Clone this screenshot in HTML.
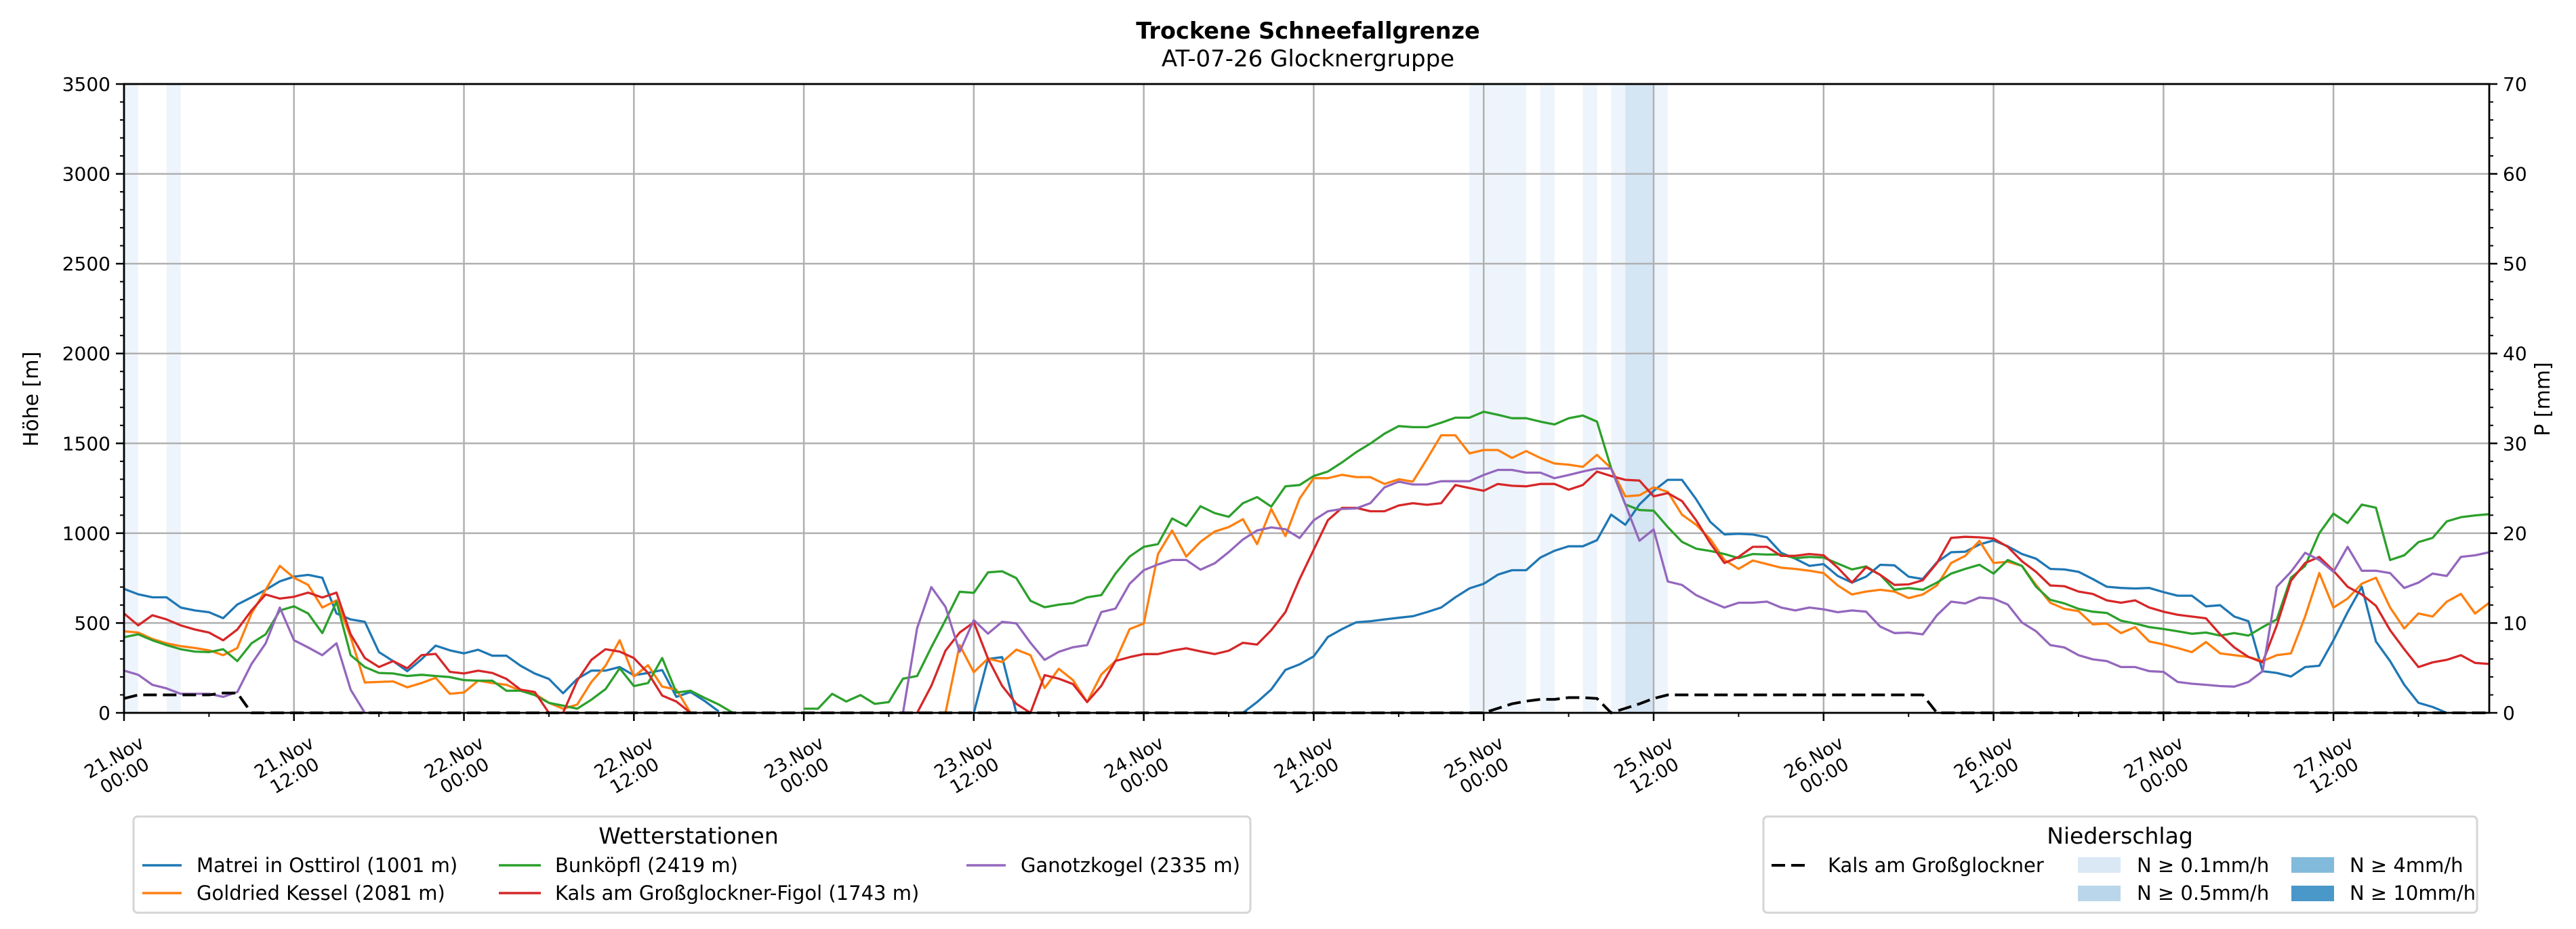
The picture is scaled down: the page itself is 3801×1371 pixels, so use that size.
<!DOCTYPE html>
<html><head><meta charset="utf-8">
<style>
html,body{margin:0;padding:0;background:#fff;}
svg{display:block;font-family:"DejaVu Sans","Liberation Sans",sans-serif;}
</style></head>
<body>
<svg id="chart" xmlns="http://www.w3.org/2000/svg" width="3801" height="1371" viewBox="0 0 3801 1371">
  <rect x="0" y="0" width="3801" height="1371" fill="#fff"/>
  <text x="1930" y="57" text-anchor="middle" font-size="33.5" font-weight="bold">Trockene Schneefallgrenze</text>
  <text x="1930" y="98" text-anchor="middle" font-size="34">AT-07-26 Glocknergruppe</text>
  <g id="bands"></g>
  <g id="grid"></g>
  <g id="series"></g>
  <g id="axes"></g>
  <text transform="translate(56,589) rotate(-90)" text-anchor="middle" font-size="30">Höhe [m]</text>
  <text transform="translate(3762,589) rotate(-90)" text-anchor="middle" font-size="30">P [mm]</text>

  <g>
    <rect x="197" y="1205" width="1648" height="142" rx="6" fill="#fff" stroke="#d5d5d5" stroke-width="3"/>
    <text x="1016" y="1245" text-anchor="middle" font-size="33">Wetterstationen</text>
    <g><line x1="210" y1="1277" x2="268" y2="1277" stroke="#1f77b4" stroke-width="3.5"/><text x="290" y="1287" font-size="29">Matrei in Osttirol (1001 m)</text></g>
    <g><line x1="210" y1="1318" x2="268" y2="1318" stroke="#ff7f0e" stroke-width="3.5"/><text x="290" y="1328" font-size="29">Goldried Kessel (2081 m)</text></g>
    <g><line x1="736" y1="1277" x2="798" y2="1277" stroke="#2ca02c" stroke-width="3.5"/><text x="819" y="1287" font-size="29">Bunköpfl (2419 m)</text></g>
    <g><line x1="736" y1="1318" x2="798" y2="1318" stroke="#d62728" stroke-width="3.5"/><text x="819" y="1328" font-size="29">Kals am Großglockner-Figol (1743 m)</text></g>
    <g><line x1="1426" y1="1277" x2="1484" y2="1277" stroke="#9467bd" stroke-width="3.5"/><text x="1506" y="1287" font-size="29">Ganotzkogel (2335 m)</text></g>
  </g>

  <g>
    <rect x="2602" y="1205" width="1053" height="142" rx="6" fill="#fff" stroke="#d5d5d5" stroke-width="3"/>
    <text x="3128" y="1245" text-anchor="middle" font-size="33">Niederschlag</text>
    <g><line x1="2614" y1="1277" x2="2672" y2="1277" stroke="#000" stroke-width="4" stroke-dasharray="20,9"/><text x="2697" y="1287" font-size="29">Kals am Großglockner</text></g>
    <g><rect x="3066" y="1265" width="63" height="23" fill="#dae8f5"/><text x="3153" y="1287" font-size="29">N ≥ 0.1mm/h</text></g>
    <g><rect x="3066" y="1307" width="63" height="23" fill="#bad6ea"/><text x="3153" y="1328" font-size="29">N ≥ 0.5mm/h</text></g>
    <g><rect x="3381" y="1265" width="63" height="23" fill="#82badb"/><text x="3467" y="1287" font-size="29">N ≥ 4mm/h</text></g>
    <g><rect x="3381" y="1307" width="63" height="23" fill="#4a98c9"/><text x="3467" y="1328" font-size="29">N ≥ 10mm/h</text></g>
  </g>
</svg>
<script>
function gap(n){return new Array(n).fill(null);}
function rep(v,n){return new Array(n).fill(v);}

const hoursStart = 0;
const xTickHours = [0,12,24,36,48,60,72,84,96,108,120,132,144,156];
const xTickDay = ["21.Nov","21.Nov","22.Nov","22.Nov","23.Nov","23.Nov","24.Nov","24.Nov","25.Nov","25.Nov","26.Nov","26.Nov","27.Nov","27.Nov"];
const xTickTime = ["00:00","12:00","00:00","12:00","00:00","12:00","00:00","12:00","00:00","12:00","00:00","12:00","00:00","12:00"];
const yTicks = [0,500,1000,1500,2000,2500,3000,3500];
const y2Ticks = [0,10,20,30,40,50,60,70];

const matrei = [690,660,643,643,586,570,560,527,603,643,685,732,758,768,752,553,520,507,338,288,232,298,374,348,331,351,318,318,262,219,189,109,189,235,235,255,209,222,238,89,116,66,7]
 .concat(gap(17),[0,300,310,0],gap(15),
 [0,60,130,239,270,314,422,466,504,510,520,529,538,561,586,643,693,718,769,794,794,864,902,927,927,961,1103,1047,1160,1236,1297,1297,1189,1063,
  993,997,993,977,891,858,818,828,
  762,725,758,824,821,758,745,838,894,897,937,960,
  927,884,858,801,798,785,745,702,695,692,695,672,
  652,652,593,599,536,510,232,222,202,255,262,404,
  560,702,397,288,156,56,33,0,null,null,null]);

const goldried = [454,447,411,387,371,361,348,321,361,553,685,818,752,712,586,626,421,169,172,175,142,166,195,106,113,179,166,156,123,106,56,23,46,172,262,404,202,265,146,129,0]
 .concat(gap(17),
 [0,377,226,302,283,352,321,138,245,182,60,213,289,466,497,883,1015,870,952,1009,1034,1078,939,1135,984,1192,1306,1306,1325,1312,1312,1274,1300,1287,1413,1545,1545,1444,1463,1463,1419,1457,1419,1388,1381,1369,1436,1362,1205,1211,1255,1230,1103,1047,967,
  851,801,
  848,828,808,801,791,778,
  709,659,675,685,675,639,659,709,834,874,957,834,
  841,818,712,613,579,566,493,497,444,477,397,381,
  361,338,394,331,321,311,288,321,331,536,778,586,
  636,719,752,586,470,553,536,619,662,553,613]);

const bunkoepfl = [421,437,404,377,354,341,338,354,288,387,437,570,593,553,444,619,321,255,222,219,205,212,205,199,182,179,179,123,123,99,56,40,23,73,132,248,149,166,305,113,123,83,46,0]
 .concat(gap(4),
 [23,23,106,63,99,50,60,190,205,365,516,674,668,782,788,750,624,588,602,611,643,655,775,870,924,939,1082,1040,1150,1112,1091,1167,1201,1148,1261,1268,1318,1343,1394,1451,1499,1554,1596,1590,1590,1615,1643,1643,1676,1659,1640,1640,1621,1605,1640,1655,1621,1362,1160,1129,1125,1034,952,914,901,
  884,861,884,881,881,861,868,864,
  831,798,815,768,685,695,685,725,775,801,824,775,
  851,818,702,629,609,579,563,556,513,497,477,467,
  454,440,447,430,444,430,477,520,752,818,1000,1109,
  1056,1159,1142,851,877,950,974,1066,1089,1099,1106]);

const kalsFigol = [553,487,543,520,487,464,447,404,464,570,659,636,646,669,642,669,437,305,255,288,248,321,328,228,219,235,222,189,129,116,0,0,179,295,354,341,305,222,96,63,0]
 .concat(gap(15),
 [0,150,346,447,504,302,150,50,0,210,190,160,60,150,289,310,327,327,346,359,342,327,346,390,380,460,561,744,908,1072,1141,1141,1122,1122,1154,1167,1158,1167,1268,1251,1236,1274,1264,1261,1274,1274,1242,1268,1343,1318,1297,1293,1205,1223,1179,1072,944,834,
  868,924,924,874,874,884,877,
  808,725,811,768,712,715,738,834,974,980,977,970,
  924,844,785,709,705,675,662,626,613,626,586,563,
  546,536,526,437,364,311,281,487,735,834,868,791,
  702,659,596,460,354,255,281,295,321,278,272]);

const ganotzkogel = [235,212,156,136,106,106,106,89,116,272,387,586,404,364,321,387,129,0]
 .concat(gap(37),
 [0,472,700,590,340,516,441,507,498,390,295,340,365,377,561,580,718,794,826,851,851,797,832,895,965,1015,1032,1022,973,1072,1122,1135,1138,1167,1255,1287,1271,1271,1289,1289,1289,1324,1352,1352,1337,1337,1306,1324,1343,1360,1360,1160,958,1021,731,712,655,619,
  586,613,613,619,586,570,586,576,
  560,570,563,480,444,447,437,543,619,609,642,636,
  603,503,454,377,364,321,298,288,255,255,232,228,
  172,162,156,149,146,172,232,702,785,891,851,785,
  924,791,791,778,695,725,775,762,868,877,894]);

const kalsPrecip = [1.6,2,2,2,2,2,2,2.2,2.2].concat(rep(0,88),[0.5,1.0,1.3,1.5,1.5,1.7,1.7,1.6,0,0.5,1.0,1.6],rep(2,19),rep(0,40));

const bandHours = [0,3,95,96,97,98,100,103,105,106,107,108];
const bandRates = [0.2,0.2,0.2,0.2,0.2,0.2,0.2,0.2,0.2,0.6,0.6,0.2];

const seriesList = [
  {name:'matrei', color:'#1f77b4', data:matrei},
  {name:'goldried', color:'#ff7f0e', data:goldried},
  {name:'bunkoepfl', color:'#2ca02c', data:bunkoepfl},
  {name:'kals-figol', color:'#d62728', data:kalsFigol},
  {name:'ganotzkogel', color:'#9467bd', data:ganotzkogel}
];

const PL=183, PR=3673, PT=124, PB=1052, HMAX=167, YMAX=3500, PMAX=70;
function xs(h){return PL + (h-hoursStart)*(PR-PL)/HMAX;}
function ys(v){return PB - v*(PB-PT)/YMAX;}
function yp(p){return PB - p*(PB-PT)/PMAX;}
const NS='http://www.w3.org/2000/svg';
function mk(tag,attrs,parent){const e=document.createElementNS(NS,tag);for(const k in attrs)e.setAttribute(k,attrs[k]);parent.appendChild(e);return e;}

const bands=document.getElementById('bands');
bandHours.forEach((h,i)=>{
  const r=bandRates[i];
  const col = r>=10?'#4a98c9':r>=4?'#82badb':r>=0.5?'#d4e5f3':'#eef4fb';
  const el=mk('rect',{x:xs(h),y:PT,width:xs(h+1)-xs(h),height:PB-PT,fill:col},bands);
  
  
});

const grid=document.getElementById('grid');
yTicks.forEach(v=>{
  const el=mk('line',{x1:PL,x2:PR,y1:ys(v),y2:ys(v),stroke:'#b0b0b0','stroke-width':2.5},grid);
  
  
});
xTickHours.forEach(h=>{
  const el=mk('line',{x1:xs(h),x2:xs(h),y1:PT,y2:PB,stroke:'#b0b0b0','stroke-width':2.5},grid);
  
  
});

const sg=document.getElementById('series');
seriesList.forEach(s=>{
  let d='',pen=false;
  s.data.forEach((v,i)=>{
    if(v===null||v===undefined){pen=false;return;}
    d+=(pen?'L':'M')+xs(i).toFixed(1)+','+ys(v).toFixed(1);
    pen=true;
  });
  const el=mk('path',{d:d,fill:'none',stroke:s.color,'stroke-width':3.3,'stroke-linejoin':'round'},sg);
  
  
});
{
  let d='';
  kalsPrecip.forEach((p,i)=>{d+=(i?'L':'M')+xs(i).toFixed(1)+','+yp(p).toFixed(1);});
  const el=mk('path',{d:d,fill:'none',stroke:'#000','stroke-width':4,'stroke-dasharray':'20,9'},sg);
  
  
}

const ax=document.getElementById('axes');
const frame=mk('rect',{x:PL,y:PT,width:PR-PL,height:PB-PT,fill:'none',stroke:'#000','stroke-width':2.8},ax);


for(let v=0;v<=YMAX;v+=100){
  const major=v%500===0;
  const el=mk('line',{x1:PL-(major?12:6),x2:PL,y1:ys(v),y2:ys(v),stroke:'#000','stroke-width':major?2.5:2},ax);
  
  
}
yTicks.forEach(v=>{
  const t=mk('text',{x:PL-20,y:ys(v)+10,'text-anchor':'end','font-size':28},ax);
  t.textContent=v;
  
  
});
for(let p=0;p<=PMAX;p+=2){
  const major=p%10===0;
  const el=mk('line',{x1:PR,x2:PR+(major?12:6),y1:yp(p),y2:yp(p),stroke:'#000','stroke-width':major?2.5:2},ax);
  
  
}
y2Ticks.forEach(p=>{
  const t=mk('text',{x:PR+20,y:yp(p)+10,'text-anchor':'start','font-size':28},ax);
  t.textContent=p;
  
  
});
for(let h=0;h<=HMAX;h+=6){
  const major=h%12===0;
  const el=mk('line',{x1:xs(h),x2:xs(h),y1:PB,y2:PB+(major?12:6),stroke:'#000','stroke-width':major?2.5:2},ax);
  
  
}
xTickHours.forEach((h,i)=>{
  const g=mk('g',{transform:'translate('+(xs(h)-7)+',1131) rotate(-30)'},ax);
  
  
  const t1=mk('text',{x:0,y:-6,'text-anchor':'middle','font-size':27},g);
  t1.textContent=xTickDay[i];
  const t2=mk('text',{x:0,y:25,'text-anchor':'middle','font-size':27},g);
  t2.textContent=xTickTime[i];
});
</script>
</body></html>
